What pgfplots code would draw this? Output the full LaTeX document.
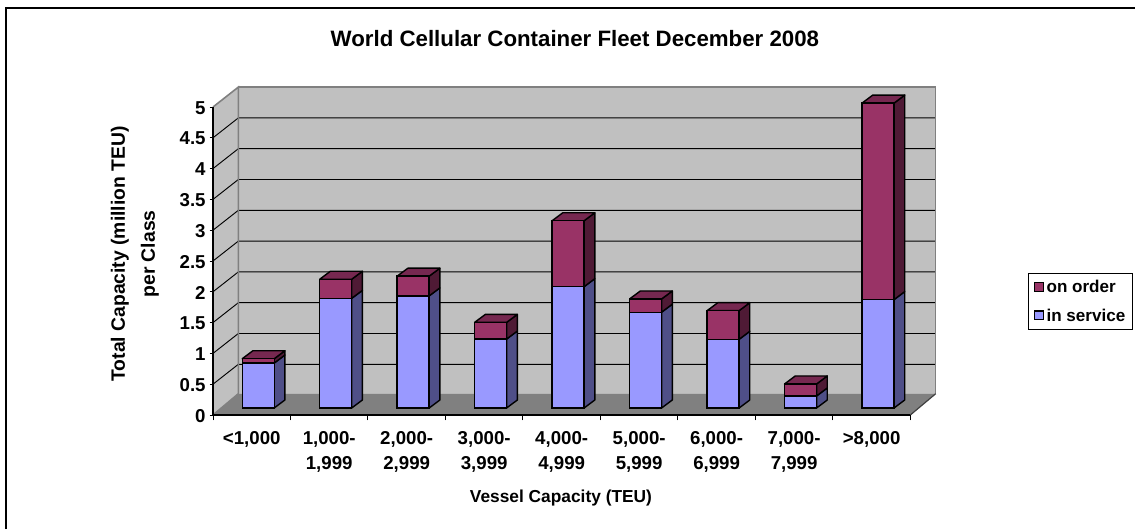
\documentclass[border=0pt]{standalone}
\usepackage{pgfplots}
\usepackage{pgfplotstable}
\usepackage{fontspec}
\setmainfont{Liberation Sans}
\pgfplotsset{compat=1.18}
\definecolor{wall}{HTML}{C0C0C0}
\definecolor{floorc}{HTML}{808080}
\definecolor{bluef}{HTML}{9999FF}
\definecolor{blues}{HTML}{4F4F88}
\definecolor{purf}{HTML}{993366}
\definecolor{purs}{HTML}{4F1A35}
\definecolor{purt}{HTML}{762850}
% class index, in service, on order (million TEU)
\pgfplotstableread{
i s o
0 0.73 0.07
1 1.78 0.31
2 1.82 0.32
3 1.12 0.27
4 1.97 1.07
5 1.555 0.215
6 1.115 0.465
7 0.195 0.195
8 1.76 3.19
}\fleet
\begin{document}
\begin{tikzpicture}
\path[use as bounding box] (0pt,0pt) rectangle (851.25pt,396.75pt);
\draw[black,line width=1.4pt] (4.5pt,0pt) -- (4.5pt,391pt) -- (851.25pt,391pt);
% walls, floor, scale, titles
\begin{axis}[
  at={(159.75pt,85.5pt)},anchor=south west,
  scale only axis,width=523pt,height=231pt,
  xmin=0,xmax=9,ymin=0,ymax=5,clip=false,
  axis x line=bottom,axis y line=left,axis line style={-,black,line width=0.9pt},
  axis on top,
  xtick={0.5,1.5,...,8.5},
  xticklabels={{<1,000},{1,000-\\1,999},{2,000-\\2,999},{3,000-\\3,999},{4,000-\\4,999},{5,000-\\5,999},{6,000-\\6,999},{7,000-\\7,999},{>8,000}},
  minor xtick={0,1,...,9},
  major x tick style={draw=none},
  minor x tick style={black,line width=0.7pt},
  minor tick length=4pt,
  x tick label style={align=center,anchor=north,yshift=-6.5pt,font=\fontsize{14}{18.75}\selectfont\bfseries},
  ytick={0,0.5,...,5},
  yticklabels={0,0.5,1,1.5,2,2.5,3,3.5,4,4.5,5},
  y tick label style={font=\fontsize{14}{15}\selectfont\bfseries,xshift=0.5pt,yshift=-0.6pt},
  major y tick style={black,line width=0.7pt},
  tick align=outside,
  major tick length=2.5pt,
  title={World Cellular Container Fleet December 2008},
  title style={at={(0.519,1.195)},anchor=center,yshift=0pt,font=\fontsize{16.7}{20}\selectfont\bfseries},
  xlabel={Vessel Capacity (TEU)},
  xlabel style={at={(0.499,-0.27)},anchor=center,font=\fontsize{13}{15}\selectfont\bfseries},
  ylabel={Total Capacity (million TEU)\\per Class},
  ylabel style={at={(-0.112,0.523)},anchor=center,rotate=0,align=center,font=\fontsize{14.5}{22.5}\selectfont\bfseries},
]
\addplot[fill=wall,draw=none,forget plot] coordinates {(.327,.345) (9.327,.345) (9.327,5.323) (.327,5.323)} --cycle;
\addplot[fill=wall,draw=none,forget plot] coordinates {(0,0) (.327,.345) (.327,5.323) (0,5)} --cycle;
\addplot[fill=floorc,draw=none,forget plot] coordinates {(0,0) (9,0) (9.327,.345) (.327,.345)} --cycle;
\pgfplotsinvokeforeach{0.5,1,1.5,2,2.5,3,3.5,4,4.5}{
  \pgfmathsetmacro\by{.323+#1}
  \edef\temp{\noexpand\addplot[black,line width=0.7pt,forget plot] coordinates {(0,#1) (.327,\by) (9.327,\by)};}
  \temp
}
\addplot[floorc,line width=1.2pt,forget plot] coordinates {(0,0) (.327,.345) (.327,5.323) (0,5)};
\addplot[floorc,line width=1.2pt,forget plot] coordinates {(.327,5.323) (9.327,5.323) (9.327,.345)};
\addplot[black!75,line width=0.9pt,forget plot] coordinates {(9,0) (9.327,.345)};
\end{axis}
% the columns, on the plane set back from the front of the floor
\begin{axis}[
  at={(164.6pt,90.75pt)},anchor=south west,
  scale only axis,width=523pt,height=231pt,
  xmin=0,xmax=9,ymin=0,ymax=5,clip=false,
  hide axis,
  legend style={at={(1.16,.437)},anchor=north west,draw=black,line width=0.7pt,
    font=\fontsize{12.8}{15}\selectfont\bfseries,
    inner xsep=3.5pt,inner ysep=2.8pt,row sep=6.5pt,
    cells={anchor=west},/tikz/every even column/.append style={column sep=5pt}},
  legend cell align=left,
]
\pgfplotsinvokeforeach{0,...,8}{
  \pgfplotstablegetelem{#1}{s}\of\fleet \let\vs\pgfplotsretval
  \pgfplotstablegetelem{#1}{o}\of\fleet \let\vo\pgfplotsretval
  \pgfmathsetmacro\xa{#1+.5+.2065}
  \pgfmathsetmacro\xb{\xa+.138}
  \pgfmathsetmacro\xl{\xa-.413}
  \pgfmathsetmacro\xm{\xl+.138}
  \pgfmathsetmacro\vt{\vs+\vo}
  \pgfmathsetmacro\bs{\vs+.13}
  \pgfmathsetmacro\bt{\vt+.13}
  \edef\temp{%
    \noexpand\addplot[fill=blues,draw=black,line width=1.05pt,line join=round,forget plot] coordinates {(\xa,0) (\xb,.13) (\xb,\bs) (\xa,\vs)} --cycle;
    \noexpand\addplot[fill=purs,draw=black,line width=1.05pt,line join=round,forget plot] coordinates {(\xa,\vs) (\xb,\bs) (\xb,\bt) (\xa,\vt)} --cycle;
    \noexpand\addplot[fill=purt,draw=black,line width=1.05pt,line join=round,forget plot] coordinates {(\xl,\vt) (\xa,\vt) (\xb,\bt) (\xm,\bt)} --cycle;
  }
  \temp
}
\addplot[ybar,bar width=24pt,bar shift=0pt,fill=purf,draw=black,line width=1.05pt,forget plot]
  table[x expr=\thisrow{i}+0.5,y expr=\thisrow{s}+\thisrow{o}] {\fleet};
\addplot[ybar,bar width=24pt,bar shift=0pt,fill=bluef,draw=black,line width=1.05pt,forget plot]
  table[x expr=\thisrow{i}+0.5,y=s] {\fleet};
\addlegendimage{legend image code/.code={\draw[fill=purf,draw=black,line width=0.8pt] (0pt,-3pt) rectangle (7pt,3.6pt);}}
\addlegendentry{on order}
\addlegendimage{legend image code/.code={\draw[fill=bluef,draw=black,line width=0.8pt] (0pt,-3pt) rectangle (7pt,3.6pt);}}
\addlegendentry{in service}
\end{axis}
\end{tikzpicture}
\end{document}
